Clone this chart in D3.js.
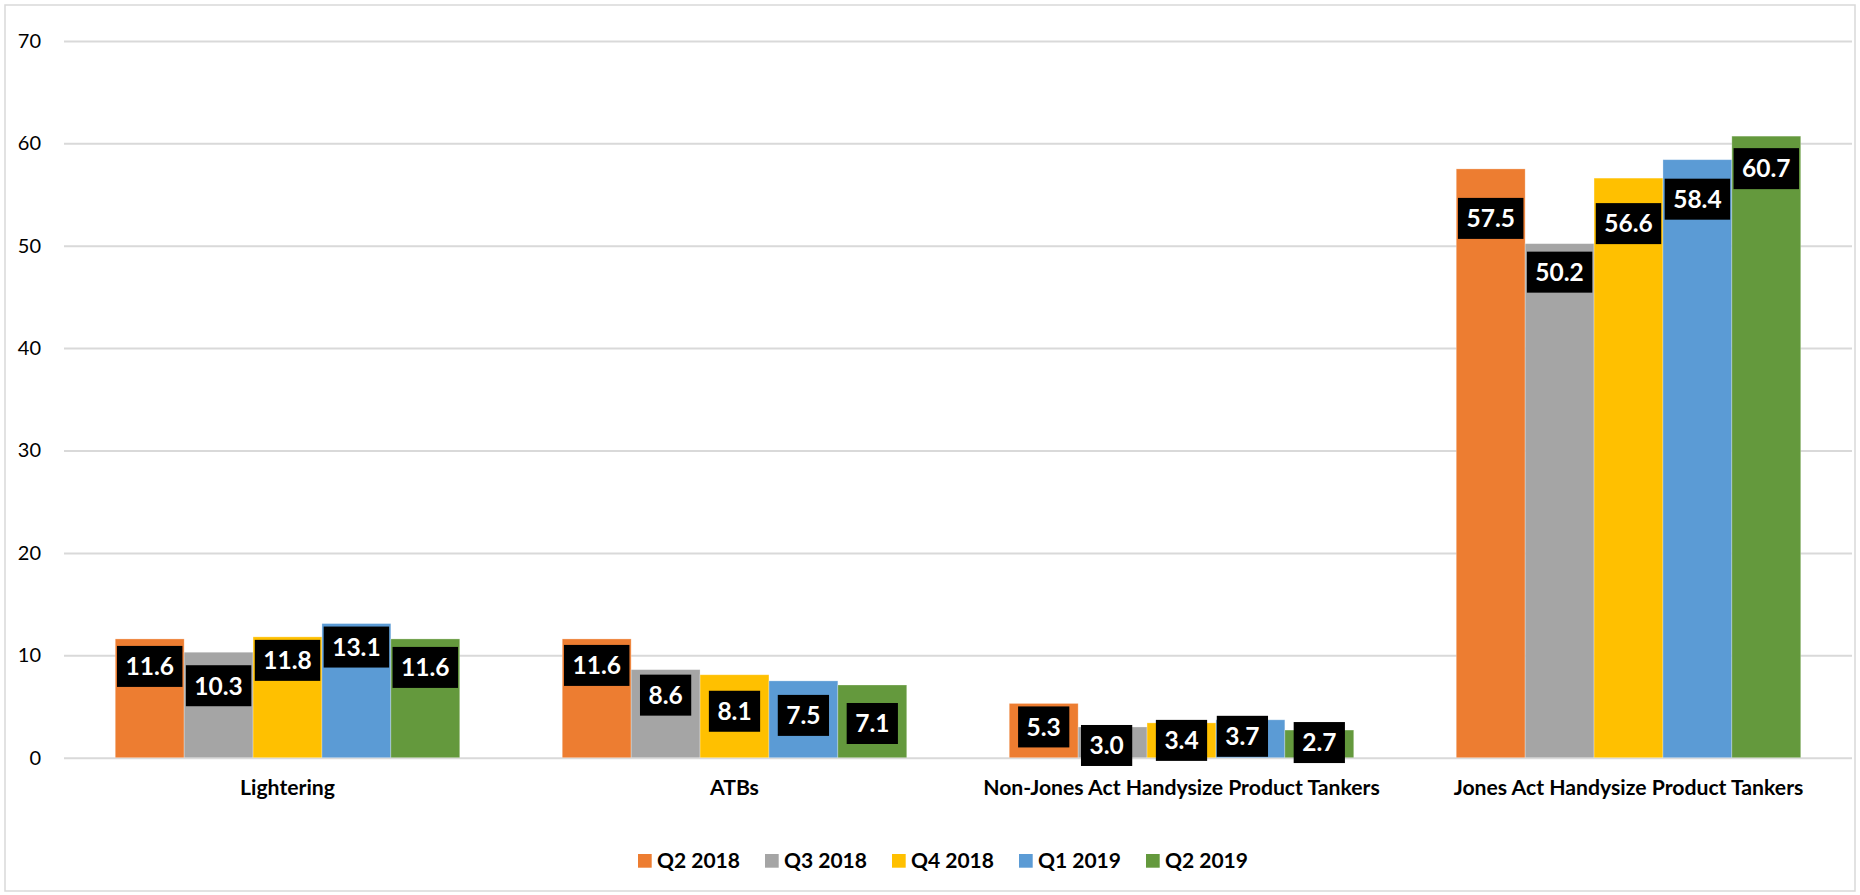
<!DOCTYPE html>
<html>
<head>
<meta charset="utf-8">
<script src="https://cdn.jsdelivr.net/npm/d3@7"></script>
<style>
  html, body { margin: 0; padding: 0; background: #fff; }
  svg { display: block; }
  text { font-family: Lato, "Open Sans", sans-serif; }
</style>
</head>
<body>
<svg id="chart" width="1860" height="895"></svg>
<script>
// ---- data ----
const categories = [
  "Lightering",
  "ATBs",
  "Non-Jones Act Handysize Product Tankers",
  "Jones Act Handysize Product Tankers"
];
const seriesNames = ["Q2 2018", "Q3 2018", "Q4 2018", "Q1 2019", "Q2 2019"];
const q2_2018 = [11.6, 11.6, 5.3, 57.5];
const q3_2018 = [10.3, 8.6, 3.0, 50.2];
const q4_2018 = [11.8, 8.1, 3.4, 56.6];
const q1_2019 = [13.1, 7.5, 3.7, 58.4];
const q2_2019 = [11.6, 7.1, 2.7, 60.7];
const yTicks = [0, 10, 20, 30, 40, 50, 60, 70];

// ---- label placement (px below bar top / sideways), per category x series ----
const labelDrop = [
  [7, 13, 3, 3, 8],
  [6, 5, 16, 14, 18],
  [3, -2, -3, -4, -8],
  [29, 8, 25, 19, 12]
];
const labelShift = [
  [0, 0, 0, 0, 0],
  [0, 0, 0, 0, 0],
  [0, -6, 0, -8, 0],
  [0, 0, 0, 0, 0]
];

const seriesValues = [q2_2018, q3_2018, q4_2018, q1_2019, q2_2019];
const colors = ["#ED7D31", "#A5A5A5", "#FFC000", "#5B9BD5", "#64993D"];

// ---- layout ----
const W = 1860, H = 895;
const plot = { left: 64, right: 1852, top: 40.9, bottom: 757.7 };

const svg = d3.select("#chart");

// outer frame
svg.append("rect")
  .attr("x", 5).attr("y", 5)
  .attr("width", W - 10).attr("height", H - 9)
  .attr("fill", "#fff")
  .attr("stroke", "#D9D9D9")
  .attr("stroke-width", 1.5);

const y = d3.scaleLinear().domain([0, 70]).range([plot.bottom, plot.top]);
const x0 = d3.scaleBand()
  .domain(categories)
  .range([plot.left, plot.right])
  .paddingInner(0.2293)
  .paddingOuter(0.11465);
const x1 = d3.scaleBand()
  .domain(seriesNames)
  .range([0, x0.bandwidth()]);

// gridlines + y tick labels
const yAxis = d3.axisLeft(y)
  .tickValues(yTicks)
  .tickSize(-(plot.right - plot.left))
  .tickPadding(23);
const gy = svg.append("g")
  .attr("transform", `translate(${plot.left},0)`)
  .call(yAxis);
gy.select(".domain").remove();
gy.selectAll(".tick line").attr("stroke", "#D9D9D9").attr("stroke-width", 2);
gy.selectAll(".tick text")
  .attr("fill", "#000")
  .style("font-size", "20px")
  .style("font-family", "Lato, sans-serif");

// bars
const rows = categories.map((c, i) => ({
  cat: c,
  idx: i,
  vals: seriesNames.map((s, j) => ({ s, j, v: seriesValues[j][i] }))
}));

const groups = svg.append("g").selectAll("g")
  .data(rows)
  .join("g")
  .attr("transform", d => `translate(${x0(d.cat)},0)`);

groups.selectAll("rect")
  .data(d => d.vals)
  .join("rect")
  .attr("x", d => x1(d.s))
  .attr("y", d => y(d.v))
  .attr("width", x1.bandwidth())
  .attr("height", d => y(0) - y(d.v))
  .attr("fill", d => colors[d.j])
  .attr("stroke", "#fff")
  .attr("stroke-opacity", 0.35)
  .attr("stroke-width", 0.8);

// value labels: black boxes with white bold text
const labelLayer = svg.append("g");
rows.forEach(r => {
  r.vals.forEach(d => {
    const cx = x0(r.cat) + x1(d.s) + x1.bandwidth() / 2 + labelShift[r.idx][d.j];
    const top = y(d.v) + labelDrop[r.idx][d.j];
    const g = labelLayer.append("g");
    const rect = g.append("rect").attr("fill", "#000");
    const t = g.append("text")
      .attr("x", cx)
      .attr("y", top + 20.5)
      .attr("dy", "0.36em")
      .attr("text-anchor", "middle")
      .attr("fill", "#fff")
      .style("font-size", "24.5px")
      .style("font-weight", "700")
      .text(d.v.toFixed(1));
    const tw = t.node().getComputedTextLength();
    const bw = tw + 17;
    rect.attr("x", cx - bw / 2).attr("y", top).attr("width", bw).attr("height", 41);
  });
});

// category labels
svg.append("g").selectAll("text")
  .data(categories)
  .join("text")
  .attr("x", d => x0(d) + x0.bandwidth() / 2)
  .attr("y", 795)
  .attr("text-anchor", "middle")
  .attr("fill", "#000")
  .style("font-size", "21.2px")
  .style("font-weight", "700")
  .text(d => d);

// legend
const legend = svg.append("g").attr("transform", "translate(638,0)");
const li = legend.selectAll("g")
  .data(seriesNames)
  .join("g")
  .attr("transform", (d, i) => `translate(${i * 127},0)`);
li.append("rect")
  .attr("x", 0).attr("y", 854)
  .attr("width", 13.7).attr("height", 13.7)
  .attr("fill", (d, i) => colors[i]);
li.append("text")
  .attr("x", 19).attr("y", 868)
  .attr("fill", "#000")
  .style("font-size", "21px")
  .style("font-weight", "700")
  .text(d => d);
</script>
</body>
</html>
